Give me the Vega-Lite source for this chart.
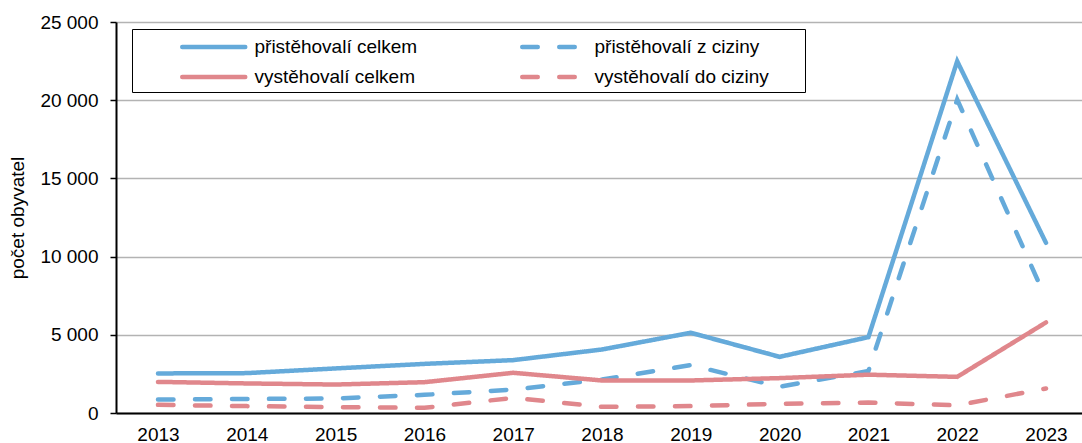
{
  "$schema": "https://vega.github.io/schema/vega-lite/v6.json",
  "width": 972,
  "height": 391,
  "autosize": {"type": "none"},
  "padding": {"left": 116, "top": 22, "right": 0, "bottom": 30},
  "background": "white",
  "config": {
    "view": {"stroke": null},
    "font": "Liberation Sans",
    "axis": {"labelFont": "Liberation Sans", "titleFont": "Liberation Sans", "labelColor": "black", "titleColor": "black"}
  },
  "data": {
    "values": [
      {"rok": "2013", "serie": "přistěhovalí celkem", "hodnota": 2530},
      {"rok": "2014", "serie": "přistěhovalí celkem", "hodnota": 2550},
      {"rok": "2015", "serie": "přistěhovalí celkem", "hodnota": 2850},
      {"rok": "2016", "serie": "přistěhovalí celkem", "hodnota": 3140},
      {"rok": "2017", "serie": "přistěhovalí celkem", "hodnota": 3380},
      {"rok": "2018", "serie": "přistěhovalí celkem", "hodnota": 4060},
      {"rok": "2019", "serie": "přistěhovalí celkem", "hodnota": 5130},
      {"rok": "2020", "serie": "přistěhovalí celkem", "hodnota": 3590},
      {"rok": "2021", "serie": "přistěhovalí celkem", "hodnota": 4850},
      {"rok": "2022", "serie": "přistěhovalí celkem", "hodnota": 22490},
      {"rok": "2023", "serie": "přistěhovalí celkem", "hodnota": 10880},
      {"rok": "2013", "serie": "přistěhovalí z ciziny", "hodnota": 860},
      {"rok": "2014", "serie": "přistěhovalí z ciziny", "hodnota": 895},
      {"rok": "2015", "serie": "přistěhovalí z ciziny", "hodnota": 930},
      {"rok": "2016", "serie": "přistěhovalí z ciziny", "hodnota": 1160},
      {"rok": "2017", "serie": "přistěhovalí z ciziny", "hodnota": 1500},
      {"rok": "2018", "serie": "přistěhovalí z ciziny", "hodnota": 2140},
      {"rok": "2019", "serie": "přistěhovalí z ciziny", "hodnota": 3060},
      {"rok": "2020", "serie": "přistěhovalí z ciziny", "hodnota": 1680},
      {"rok": "2021", "serie": "přistěhovalí z ciziny", "hodnota": 2680},
      {"rok": "2022", "serie": "přistěhovalí z ciziny", "hodnota": 20040},
      {"rok": "2023", "serie": "přistěhovalí z ciziny", "hodnota": 7300},
      {"rok": "2013", "serie": "vystěhovalí celkem", "hodnota": 1990},
      {"rok": "2014", "serie": "vystěhovalí celkem", "hodnota": 1890},
      {"rok": "2015", "serie": "vystěhovalí celkem", "hodnota": 1820},
      {"rok": "2016", "serie": "vystěhovalí celkem", "hodnota": 1970},
      {"rok": "2017", "serie": "vystěhovalí celkem", "hodnota": 2570},
      {"rok": "2018", "serie": "vystěhovalí celkem", "hodnota": 2080},
      {"rok": "2019", "serie": "vystěhovalí celkem", "hodnota": 2080},
      {"rok": "2020", "serie": "vystěhovalí celkem", "hodnota": 2230},
      {"rok": "2021", "serie": "vystěhovalí celkem", "hodnota": 2450},
      {"rok": "2022", "serie": "vystěhovalí celkem", "hodnota": 2310},
      {"rok": "2023", "serie": "vystěhovalí celkem", "hodnota": 5790},
      {"rok": "2013", "serie": "vystěhovalí do ciziny", "hodnota": 520},
      {"rok": "2014", "serie": "vystěhovalí do ciziny", "hodnota": 440},
      {"rok": "2015", "serie": "vystěhovalí do ciziny", "hodnota": 375},
      {"rok": "2016", "serie": "vystěhovalí do ciziny", "hodnota": 330},
      {"rok": "2017", "serie": "vystěhovalí do ciziny", "hodnota": 970},
      {"rok": "2018", "serie": "vystěhovalí do ciziny", "hodnota": 395},
      {"rok": "2019", "serie": "vystěhovalí do ciziny", "hodnota": 440},
      {"rok": "2020", "serie": "vystěhovalí do ciziny", "hodnota": 590},
      {"rok": "2021", "serie": "vystěhovalí do ciziny", "hodnota": 670},
      {"rok": "2022", "serie": "vystěhovalí do ciziny", "hodnota": 490},
      {"rok": "2023", "serie": "vystěhovalí do ciziny", "hodnota": 1570}
    ]
  },
  "mark": {"type": "line", "strokeWidth": 4.5, "strokeCap": "round", "strokeJoin": "miter"},
  "encoding": {
    "x": {
      "field": "rok", "type": "ordinal",
      "scale": {"type": "point", "padding": 0.473},
      "axis": {"title": null, "labelAngle": 0, "ticks": false, "domainColor": "black", "domainWidth": 2, "labelFontSize": 19, "labelPadding": 12, "grid": false}
    },
    "y": {
      "field": "hodnota", "type": "quantitative",
      "scale": {"domain": [0, 25000], "nice": false},
      "axis": {
        "title": "počet obyvatel", "titleFontSize": 19, "titleFontWeight": "normal", "titlePadding": 12,
        "values": [0, 5000, 10000, 15000, 20000, 25000],
        "labelExpr": "replace(format(datum.value, ','), ',', ' ')",
        "labelFontSize": 19, "labelPadding": 12,
        "domainColor": "black", "domainWidth": 2, "tickColor": "black", "tickSize": 6, "tickWidth": 1.5,
        "gridColor": "#B3B3B3", "gridWidth": 1.3
      }
    },
    "color": {
      "field": "serie", "type": "nominal",
      "scale": {
        "domain": ["přistěhovalí celkem", "přistěhovalí z ciziny", "vystěhovalí celkem", "vystěhovalí do ciziny"],
        "range": ["#65AADA", "#65AADA", "#E0878C", "#E0878C"]
      },
      "legend": {
        "title": ".", "titleOrient": "right", "titleOpacity": 0, "titleFontSize": 19, "titlePadding": 25,
        "orient": "none", "legendX": 16, "legendY": 7, "direction": "horizontal", "columns": 2,
        "symbolType": "M-3,0H3", "symbolSize": 441, "symbolStrokeWidth": 4.5, "symbolOffset": 63.75,
        "labelFontSize": 19, "labelFont": "Liberation Sans", "labelColor": "black", "labelOffset": 27.75,
        "columnPadding": 59, "rowPadding": 7, "padding": 5,
        "strokeColor": "black", "fillColor": "white", "labelLimit": 400,
        "encode": {"symbols": {"update": {"strokeDash": {"signal": "indexof(datum.value, 'ciziny') >= 0 ? [22, 17] : [1, 0]"}, "strokeCap": {"value": "round"}}}}
      }
    },
    "strokeDash": {
      "field": "serie", "type": "nominal",
      "scale": {
        "domain": ["přistěhovalí celkem", "přistěhovalí z ciziny", "vystěhovalí celkem", "vystěhovalí do ciziny"],
        "range": [[1, 0], [15.5, 21.5], [1, 0], [15.5, 21.5]]
      },
      "legend": {
        "title": ".", "titleOrient": "right", "titleOpacity": 0, "titleFontSize": 19, "titlePadding": 25,
        "orient": "none", "legendX": 16, "legendY": 7, "direction": "horizontal", "columns": 2,
        "symbolType": "M-3,0H3", "symbolSize": 441, "symbolStrokeWidth": 4.5, "symbolOffset": 63.75,
        "labelFontSize": 19, "labelFont": "Liberation Sans", "labelColor": "black", "labelOffset": 27.75,
        "columnPadding": 59, "rowPadding": 7, "padding": 5,
        "strokeColor": "black", "fillColor": "white", "labelLimit": 400,
        "encode": {"symbols": {"update": {"strokeDash": {"signal": "indexof(datum.value, 'ciziny') >= 0 ? [22, 17] : [1, 0]"}, "strokeCap": {"value": "round"}}}}
      }
    }
  }
}
